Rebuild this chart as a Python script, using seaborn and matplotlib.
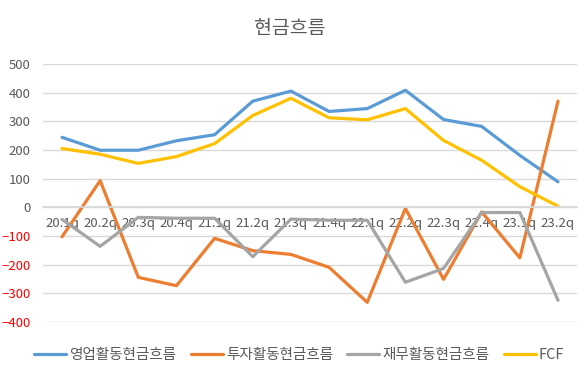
import matplotlib
matplotlib.use("Agg")
import matplotlib.pyplot as plt
import numpy as np
import pandas as pd
import seaborn as sns

# 데이터
quarters = ["20.1q", "20.2q", "20.3q", "20.4q", "21.1q", "21.2q", "21.3q",
            "21.4q", "22.1q", "22.2q", "22.3q", "22.4q", "23.1q", "23.2q"]
operating = [244, 199, 199, 232, 253, 370, 405, 334, 344, 408, 306, 282, 181, 89]
investing = [-103, 93, -244, -273, -108, -151, -164, -209, -331, -4, -251, -16, -176, 370]
financing = [-42, -136, -35, -38, -38, -172, -41, -45, -45, -261, -213, -18, -18, -324]
fcf = [205, 185, 153, 177, 222, 320, 380, 312, 305, 344, 233, 164, 72, 4]

series_names = ["영업활동현금흐름", "투자활동현금흐름", "재무활동현금흐름", "FCF"]
colors = ["#5B9BD5", "#ED7D31", "#A5A5A5", "#FFC000"]

df = pd.DataFrame({
    "idx": list(range(len(quarters))) * 4,
    "value": operating + investing + financing + fcf,
    "series": np.repeat(series_names, len(quarters)),
})

sns.set_theme(style="white")
plt.rcParams['font.family'] = ['Noto Sans CJK KR', 'DejaVu Sans']

fig = plt.figure(figsize=(5.8, 3.69), dpi=100)
ax = fig.add_axes([0.074, 0.127, 0.921, 0.70])

sns.lineplot(data=df, x="idx", y="value", hue="series", palette=colors,
             hue_order=series_names, linewidth=2.3, sort=False, ax=ax, legend=True)

ax.set_xlim(-0.5, len(quarters) - 0.5)
ax.set_ylim(-400, 500)
ax.set_yticks(range(-400, 501, 100))
ax.yaxis.grid(True, color="#D9D9D9", linewidth=1)
ax.set_axisbelow(True)
for s in ["left", "right", "top"]:
    ax.spines[s].set_visible(False)
ax.spines["bottom"].set_position(("data", 0))
ax.spines["bottom"].set_color("#D9D9D9")
ax.set_xticks(range(len(quarters)))
ax.set_xticklabels(quarters)
ax.tick_params(axis="both", length=0, labelsize=9.5, labelcolor="#595959")
ax.tick_params(axis="x", pad=7)
ax.tick_params(axis="y", pad=9)
for lab in ax.get_yticklabels():
    if lab.get_text().startswith(("-", "−")):
        lab.set_color("#FF0000")
ax.set_xlabel("")
ax.set_ylabel("")

fig.suptitle("현금흐름", fontsize=14, color="#595959", x=0.5, y=0.95)

ax.legend(loc="upper center", bbox_to_anchor=(0.48, -0.05), ncol=4, frameon=False,
          fontsize=10.5, handlelength=2.2, columnspacing=1.0, handletextpad=0.2,
          labelcolor="#595959")

fig.savefig("out.png", dpi=100)
